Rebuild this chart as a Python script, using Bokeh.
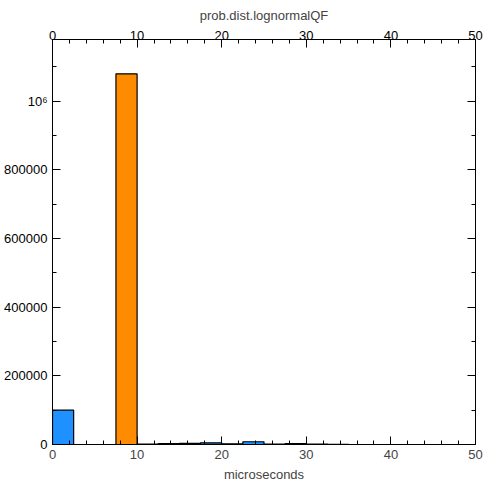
from bokeh.plotting import figure
from bokeh.models import LinearAxis, Range1d, FixedTicker
from bokeh.embed import file_html
from bokeh.resources import INLINE

lefts = [0, 7.5, 10, 12.5, 15, 17.5, 20, 22.5, 25, 27.5, 30, 32.5]
counts = [100000, 1080000, 1500, 2500, 3000, 5000, 2000, 8000, 1500, 2500, 1500, 800]
colors = ["#1e90ff", "#ff8c00", "#ff8c00", "#ff8c00", "#ff8c00", "#1e90ff", "#1e90ff", "#1e90ff", "#1e90ff", "#1e90ff", "#1e90ff", "#1e90ff"]
width = 2.5
yticks = [0, 200000, 400000, 600000, 800000, 1000000]
ylabels = {0: "0", 200000: "200000", 400000: "400000", 600000: "600000", 800000: "800000", 1000000: "10⁶"}

p = figure(width=484, height=484, output_backend="svg", toolbar_location=None,
           title="prob.dist.lognormalQF", x_range=Range1d(0, 50), y_range=Range1d(0, 1180000),
           min_border_left=52, min_border_right=9, min_border_top=4, min_border_bottom=5)
p.title.align = "center"
p.title.text_font_style = "normal"
p.title.text_font = "Liberation Sans"
p.title.text_font_size = "13px"
p.grid.visible = False
p.outline_line_color = "black"
p.quad(left=lefts, right=[l + width for l in lefts], bottom=0, top=counts,
       fill_color=colors, line_color="black", line_width=1.2)

p.xaxis.axis_label = "microseconds"
yt = FixedTicker(ticks=yticks, minor_ticks=list(range(0, 1180001, 100000)))
p.yaxis.ticker = yt
p.yaxis.major_label_overrides = ylabels
p.add_layout(LinearAxis(major_label_text_color=None, axis_label=None), "above")
p.add_layout(LinearAxis(major_label_text_color=None, axis_label=None, ticker=yt), "right")
for ax in p.axis:
    ax.major_tick_in = 8
    ax.major_tick_out = 0
    ax.minor_tick_in = 4
    ax.minor_tick_out = 0
    ax.axis_line_color = "black"
    ax.major_label_text_font = "Liberation Sans"
    ax.major_label_text_font_size = "13px"
    ax.axis_label_text_font = "Liberation Sans"
    ax.axis_label_text_font_style = "normal"
    ax.axis_label_text_font_size = "13px"
p.xaxis[0].axis_label_standoff = 2
p.xaxis[0].major_label_text_color = "black"
p.yaxis[0].major_label_text_color = "black"
p.above[0].major_label_standoff = 0
p.right[0].major_label_standoff = 0

open("out.html", "w").write(file_html(p, INLINE))
